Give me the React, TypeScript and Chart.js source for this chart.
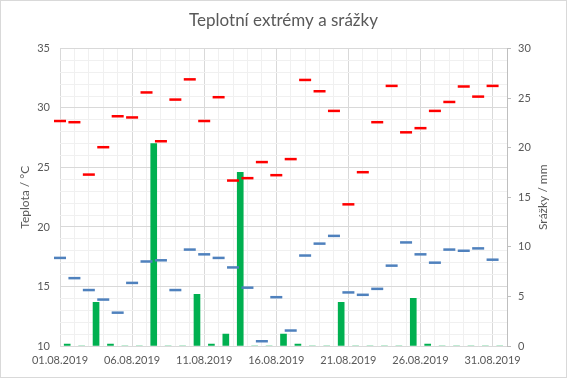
import React, { useEffect, useRef } from "react";
import { Chart, registerables } from "chart.js";

Chart.register(...registerables);

const dates = [
  "01.08.2019", "02.08.2019", "03.08.2019", "04.08.2019", "05.08.2019",
  "06.08.2019", "07.08.2019", "08.08.2019", "09.08.2019", "10.08.2019",
  "11.08.2019", "12.08.2019", "13.08.2019", "14.08.2019", "15.08.2019",
  "16.08.2019", "17.08.2019", "18.08.2019", "19.08.2019", "20.08.2019",
  "21.08.2019", "22.08.2019", "23.08.2019", "24.08.2019", "25.08.2019",
  "26.08.2019", "27.08.2019", "28.08.2019", "29.08.2019", "30.08.2019",
  "31.08.2019",
];

const tMax = [
  28.9, 28.8, 24.4, 26.7, 29.3, 29.2, 31.3, 27.2, 30.7, 32.4,
  28.9, 30.9, 23.9, 24.1, 25.45, 24.35, 25.7, 32.35, 31.4, 29.75,
  21.9, 24.6, 28.8, 31.85, 27.95, 28.3, 29.75, 30.5, 31.8, 30.95,
  31.85,
];

const tMin = [
  17.4, 15.7, 14.7, 13.9, 12.8, 15.3, 17.1, 17.2, 14.7, 18.1,
  17.7, 17.4, 16.6, 14.9, 10.4, 14.1, 11.3, 17.6, 18.6, 19.25,
  14.5, 14.3, 14.8, 16.75, 18.7, 17.7, 17.0, 18.1, 18.0, 18.2,
  17.25,
];

const precip = [
  0.2, 0, 4.4, 0.2, 0, 0, 20.4, 0, 0, 5.2,
  0.2, 1.2, 17.5, 0, 0, 1.2, 0.2, 0, 0, 4.4,
  0, 0, 0, 0, 4.8, 0.2, 0, 0, 0, 0,
  0,
];

const TITLE = "Teplotní extrémy a srážky";
const LEFT_TITLE = "Teplota / °C";
const RIGHT_TITLE = "Srážky / mm";

const TEXT = "#595959";
const MAJOR = "#d9d9d9";
const MINOR = "#f0f0f0";
const FONT = "Lato";

const decor = {
  id: "decor",
  beforeDraw(chart: any) {
    const { ctx, width, height } = chart;
    ctx.save();
    ctx.fillStyle = "#ffffff";
    ctx.fillRect(0, 0, width, height);
    ctx.restore();
  },
  afterDraw(chart: any) {
    const { ctx, width, height, chartArea } = chart;
    ctx.save();
    ctx.strokeStyle = "#d9d9d9";
    ctx.lineWidth = 1;
    ctx.strokeRect(0.5, 0.5, width - 1, height - 1);
    ctx.fillStyle = TEXT;
    ctx.font = `12px ${FONT}`;
    ctx.textAlign = "center";
    ctx.textBaseline = "middle";
    ctx.translate(width - 24, (chartArea.top + chartArea.bottom) / 2);
    ctx.rotate(-Math.PI / 2);
    ctx.fillText(RIGHT_TITLE, 0, 0);
    ctx.restore();
  },
};

export default function App() {
  const ref = useRef<HTMLCanvasElement | null>(null);

  useEffect(() => {
    if (!ref.current) return;
    Chart.defaults.font.family = FONT;
    const chart = new Chart(ref.current, {
      type: "bar",
      data: {
        datasets: [
          {
            type: "bar",
            label: "Srážky",
            data: precip.map((v, i) => ({ x: i + 0.5, y: v })),
            backgroundColor: "#00b050",
            barThickness: 6,
            yAxisID: "y2",
            xAxisID: "x",
            order: 3,
          } as any,
          {
            type: "line",
            label: "Max",
            data: tMax.map((v, i) => ({ x: i, y: v })),
            showLine: false,
            clip: false,
            pointStyle: "line",
            pointRadius: 6,
            pointBorderWidth: 2.5,
            borderColor: "#ff0000",
            backgroundColor: "#ff0000",
            yAxisID: "y",
            xAxisID: "x",
            order: 1,
          } as any,
          {
            type: "line",
            label: "Min",
            data: tMin.map((v, i) => ({ x: i, y: v })),
            showLine: false,
            clip: false,
            pointStyle: "line",
            pointRadius: 6,
            pointBorderWidth: 2.5,
            borderColor: "#4f81bd",
            backgroundColor: "#4f81bd",
            yAxisID: "y",
            xAxisID: "x",
            order: 2,
          } as any,
        ],
      },
      options: {
        responsive: false,
        animation: false,
        events: [],
        layout: { padding: { left: 0, right: 0, top: 0, bottom: 0 } },
        plugins: {
          legend: { display: false },
          tooltip: { enabled: false },
          title: {
            display: true,
            text: TITLE,
            color: TEXT,
            font: { family: FONT, size: 17, weight: "normal" },
            padding: { top: 10, bottom: 18 },
          },
        },
        scales: {
          x: {
            type: "linear",
            position: "bottom",
            min: 0,
            max: 31,
            offset: false,
            grid: {
              offset: false,
              drawTicks: false,
              color: (c: any) => (c.tick && c.tick.value % 5 === 0 ? MAJOR : MINOR),
            },
            border: { display: false },
            ticks: {
              stepSize: 1,
              autoSkip: false,
              maxRotation: 0,
              padding: 8,
              color: TEXT,
              font: { family: FONT, size: 11 },
              callback: (v: any) => {
                const n = Number(v);
                return n % 5 === 0 && n <= 30 ? dates[n] : "";
              },
            },
            afterFit: (s: any) => {
              s.height = 32;
            },
          } as any,
          y: {
            type: "linear",
            position: "left",
            min: 10,
            max: 35,
            grid: {
              drawTicks: false,
              color: (c: any) => (c.tick && c.tick.value % 5 === 0 ? MAJOR : MINOR),
            },
            border: { display: false },
            ticks: {
              stepSize: 1,
              autoSkip: false,
              padding: 10,
              color: TEXT,
              font: { family: FONT, size: 11 },
              callback: (v: any) => (Number(v) % 5 === 0 ? String(v) : ""),
            },
            title: {
              display: true,
              text: LEFT_TITLE,
              color: TEXT,
              font: { family: FONT, size: 12 },
              padding: { top: 18, bottom: 0 },
            },
            afterFit: (s: any) => {
              s.width = 60;
            },
          } as any,
          y2: {
            type: "linear",
            position: "right",
            min: 0,
            max: 30,
            grid: {
              drawOnChartArea: false,
              drawTicks: true,
              tickLength: 4,
              color: "#bfbfbf",
            },
            border: { display: true, color: "#bfbfbf" },
            ticks: {
              stepSize: 5,
              padding: 7,
              color: TEXT,
              font: { family: FONT, size: 11 },
            },
            afterFit: (s: any) => {
              s.width = 60;
            },
          } as any,
        },
      },
      plugins: [decor],
    });
    return () => chart.destroy();
  }, []);

  return (
    <div style={{ position: "fixed", left: 0, top: 0, width: 567, height: 378 }}>
      <canvas ref={ref} width={567} height={378} />
    </div>
  );
}
